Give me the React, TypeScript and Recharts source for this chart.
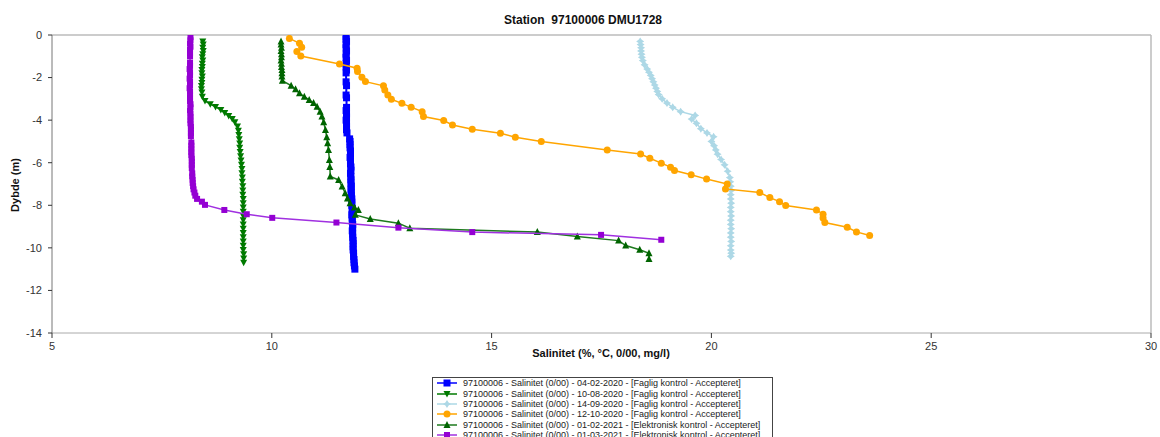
import React from "react";
import { ReferenceLine, Scatter, ScatterChart, XAxis, YAxis } from "recharts";

// Salinitet profiles, station 97100006 (depth in m, salinity in 0/00)
const blueDepth = [-0.1, -0.2, -0.3, -0.45, -0.6, -0.75, -0.9, -1.05, -1.2, -1.35, -1.5, -1.65, -1.78, -2.2, -2.38, -2.82, -2.95, -3.4, -3.55, -3.7, -3.85, -4.0, -4.15, -4.3, -4.45, -4.6, -4.88, -5.0, -5.15, -5.3, -5.45, -5.6, -5.75, -5.9, -6.05, -6.2, -6.35, -6.5, -6.65, -6.8, -6.95, -7.1, -7.25, -7.4, -7.55, -7.7, -7.85, -8.0, -8.15, -8.3, -8.45, -8.6, -8.75, -8.9, -9.05, -9.2, -9.35, -9.5, -9.65, -9.8, -9.95, -10.1, -10.25, -10.4, -10.55, -10.7, -10.85, -11.0];
const blueSal = [11.69, 11.69, 11.7, 11.69, 11.69, 11.7, 11.69, 11.69, 11.7, 11.69, 11.69, 11.7, 11.69, 11.69, 11.7, 11.69, 11.7, 11.7, 11.69, 11.7, 11.7, 11.69, 11.7, 11.7, 11.7, 11.71, 11.77, 11.78, 11.78, 11.78, 11.79, 11.79, 11.78, 11.79, 11.79, 11.8, 11.8, 11.79, 11.8, 11.8, 11.8, 11.81, 11.8, 11.81, 11.81, 11.82, 11.82, 11.82, 11.83, 11.83, 11.82, 11.83, 11.83, 11.84, 11.84, 11.83, 11.84, 11.84, 11.85, 11.85, 11.85, 11.85, 11.86, 11.86, 11.87, 11.87, 11.88, 11.89];

const greenDepth = [-0.3, -0.45, -0.6, -0.75, -0.9, -1.05, -1.2, -1.35, -1.5, -1.65, -1.8, -1.95, -2.1, -2.25, -2.4, -2.55, -2.7, -2.9, -3.1, -3.25, -3.38, -3.52, -3.66, -3.8, -3.95, -4.1, -4.3, -4.5, -4.7, -4.9, -5.1, -5.3, -5.5, -5.7, -5.9, -6.1, -6.3, -6.5, -6.7, -6.9, -7.1, -7.3, -7.5, -7.7, -7.9, -8.1, -8.3, -8.5, -8.7, -8.9, -9.1, -9.3, -9.5, -9.7, -9.9, -10.1, -10.3, -10.5, -10.7];
const greenSal = [8.43, 8.44, 8.43, 8.44, 8.43, 8.42, 8.43, 8.42, 8.42, 8.41, 8.41, 8.42, 8.41, 8.41, 8.4, 8.4, 8.41, 8.42, 8.48, 8.6, 8.72, 8.84, 8.93, 9.02, 9.1, 9.16, 9.22, 9.24, 9.25, 9.26, 9.27, 9.27, 9.28, 9.29, 9.3, 9.31, 9.32, 9.32, 9.33, 9.33, 9.34, 9.34, 9.34, 9.35, 9.35, 9.35, 9.35, 9.35, 9.35, 9.35, 9.35, 9.35, 9.35, 9.35, 9.35, 9.35, 9.36, 9.36, 9.36];

const lightDepth = [-0.3, -0.45, -0.6, -0.75, -0.9, -1.05, -1.2, -1.4, -1.6, -1.75, -1.9, -2.05, -2.2, -2.35, -2.5, -2.65, -2.8, -3.0, -3.2, -3.4, -3.6, -3.78, -3.95, -4.15, -4.4, -4.6, -4.78, -5.0, -5.2, -5.4, -5.6, -5.85, -6.1, -6.4, -6.7, -6.9, -7.1, -7.3, -7.5, -7.7, -7.9, -8.1, -8.3, -8.5, -8.7, -8.9, -9.1, -9.3, -9.5, -9.7, -9.9, -10.1, -10.25, -10.4];
const lightSal = [18.38, 18.39, 18.4, 18.4, 18.41, 18.42, 18.44, 18.48, 18.54, 18.58, 18.62, 18.65, 18.68, 18.71, 18.74, 18.77, 18.8, 18.88, 18.99, 19.12, 19.3, 19.63, 19.55, 19.66, 19.76, 19.9, 20.05, 20.0, 20.06, 20.1, 20.14, 20.22, 20.3, 20.37, 20.42, 20.43, 20.44, 20.45, 20.44, 20.44, 20.45, 20.44, 20.44, 20.45, 20.44, 20.44, 20.45, 20.44, 20.44, 20.45, 20.44, 20.44, 20.45, 20.44];

const orangeDepth = [-0.16, -0.39, -0.58, -0.78, -0.99, -1.36, -1.56, -1.72, -1.99, -2.19, -2.39, -2.58, -2.82, -3.02, -3.21, -3.39, -3.6, -3.83, -4.02, -4.23, -4.43, -4.62, -4.8, -5.0, -5.4, -5.59, -5.79, -6.02, -6.21, -6.37, -6.57, -6.77, -7.0, -7.23, -7.4, -7.64, -7.83, -8.01, -8.22, -8.42, -8.6, -8.81, -9.03, -9.25, -9.42];
const orangeSal = [10.4, 10.63, 10.68, 10.57, 10.66, 11.54, 11.94, 11.95, 12.05, 12.13, 12.54, 12.57, 12.64, 12.72, 12.96, 13.17, 13.42, 13.45, 13.91, 14.11, 14.56, 15.2, 15.54, 16.13, 17.63, 18.39, 18.6, 18.86, 19.07, 19.16, 19.54, 19.89, 20.36, 20.32, 21.1, 21.33, 21.55, 21.69, 22.39, 22.54, 22.54, 22.58, 23.09, 23.3, 23.6];

const triDepth = [-0.31, -0.45, -0.6, -0.75, -0.9, -1.05, -1.2, -1.35, -1.5, -1.65, -1.8, -1.95, -2.15, -2.38, -2.55, -2.74, -2.9, -3.05, -3.2, -3.37, -3.6, -3.83, -4.1, -4.46, -4.8, -5.08, -5.4, -5.87, -6.2, -6.65, -6.81, -7.12, -7.43, -7.68, -7.9, -8.1, -8.22, -8.45, -8.64, -8.84, -9.08, -9.26, -9.47, -9.66, -9.89, -10.09, -10.25, -10.52];
const triSal = [10.21, 10.21, 10.22, 10.21, 10.22, 10.22, 10.21, 10.22, 10.22, 10.23, 10.23, 10.23, 10.24, 10.44, 10.54, 10.63, 10.74, 10.85, 10.95, 11.03, 11.1, 11.14, 11.18, 11.22, 11.25, 11.27, 11.29, 11.31, 11.32, 11.33, 11.52, 11.6, 11.67, 11.72, 11.78, 11.88, 11.97, 11.9, 12.24, 12.88, 13.14, 16.04, 16.95, 17.89, 18.05, 18.37, 18.58, 18.58];

const purpleDepth = [-0.1, -0.25, -0.4, -0.55, -0.7, -0.85, -1.0, -1.3, -1.45, -1.6, -1.75, -1.9, -2.05, -2.2, -2.35, -2.5, -2.65, -2.8, -2.95, -3.1, -3.25, -3.4, -3.55, -3.7, -3.85, -4.0, -4.15, -4.3, -4.45, -4.6, -4.75, -5.05, -5.2, -5.35, -5.5, -5.65, -5.8, -5.95, -6.1, -6.25, -6.5, -6.65, -6.8, -6.95, -7.1, -7.25, -7.4, -7.55, -7.7, -7.83, -7.98, -8.22, -8.42, -8.59, -8.81, -9.05, -9.26, -9.39, -9.62];
const purpleSal = [8.15, 8.15, 8.14, 8.15, 8.14, 8.14, 8.14, 8.14, 8.14, 8.13, 8.14, 8.14, 8.13, 8.14, 8.14, 8.13, 8.14, 8.14, 8.14, 8.14, 8.15, 8.15, 8.14, 8.15, 8.15, 8.15, 8.15, 8.16, 8.16, 8.16, 8.16, 8.17, 8.17, 8.17, 8.17, 8.17, 8.18, 8.18, 8.18, 8.18, 8.19, 8.19, 8.2, 8.2, 8.21, 8.22, 8.24, 8.26, 8.3, 8.41, 8.48, 8.92, 9.43, 10.01, 11.47, 12.88, 14.56, 17.49, 18.86];

const xTicks = [5, 10, 15, 20, 25, 30];
const yTicks = [0, -2, -4, -6, -8, -10, -12, -14];

const legendLabels = [
  "97100006 - Salinitet (0/00) - 04-02-2020 - [Faglig kontrol - Accepteret]",
  "97100006 - Salinitet (0/00) - 10-08-2020 - [Faglig kontrol - Accepteret]",
  "97100006 - Salinitet (0/00) - 14-09-2020 - [Faglig kontrol - Accepteret]",
  "97100006 - Salinitet (0/00) - 12-10-2020 - [Faglig kontrol - Accepteret]",
  "97100006 - Salinitet (0/00) - 01-02-2021 - [Elektronisk kontrol - Accepteret]",
  "97100006 - Salinitet (0/00) - 01-03-2021 - [Elektronisk kontrol - Accepteret]",
];

const FONT = "'Liberation Sans', Arial, sans-serif";

const zip = (d: number[], s: number[]) => d.map((y, i) => ({ x: s[i], y }));

type Mark = "square" | "invtri" | "star" | "circle" | "tri" | "smallsquare";

function marker(kind: Mark, cx: number, cy: number, color: string) {
  switch (kind) {
    case "square":
      return <rect x={cx - 3.5} y={cy - 3.5} width={7} height={7} fill={color} />;
    case "smallsquare":
      return <rect x={cx - 3} y={cy - 3} width={6} height={6} fill={color} />;
    case "invtri":
      return <polygon points={`${cx - 3.5},${cy - 3} ${cx + 3.5},${cy - 3} ${cx},${cy + 3.5}`} fill={color} />;
    case "tri":
      return <polygon points={`${cx},${cy - 4} ${cx - 3.5},${cy + 3} ${cx + 3.5},${cy + 3}`} fill={color} />;
    case "circle":
      return <circle cx={cx} cy={cy} r={3.5} fill={color} />;
    case "star":
      return (
        <path
          d={`M${cx - 4},${cy} L${cx - 1.6},${cy - 1.6} L${cx},${cy - 4} L${cx + 1.6},${cy - 1.6} L${cx + 4},${cy} L${cx + 1.6},${cy + 1.6} L${cx},${cy + 4} L${cx - 1.6},${cy + 1.6} Z`}
          fill={color}
        />
      );
  }
}

const series: { data: { x: number; y: number }[]; color: string; line: string; mark: Mark; w: number }[] = [
  { data: zip(blueDepth, blueSal), color: "#0000ff", line: "#0000ff", mark: "square", w: 2 },
  { data: zip(greenDepth, greenSal), color: "#007a00", line: "#007a00", mark: "invtri", w: 1.5 },
  { data: zip(lightDepth, lightSal), color: "#add8e6", line: "#add8e6", mark: "star", w: 1.5 },
  { data: zip(orangeDepth, orangeSal), color: "#ffa500", line: "#ffa500", mark: "circle", w: 1.5 },
  { data: zip(triDepth, triSal), color: "#006400", line: "#1e7a1e", mark: "tri", w: 1.5 },
  { data: zip(purpleDepth, purpleSal), color: "#9400d3", line: "#a030e0", mark: "smallsquare", w: 1.5 },
];

function Legend() {
  return (
    <div
      style={{
        position: "absolute",
        left: 432,
        top: 377,
        width: 339,
        height: 70,
        border: "1px solid #444",
        background: "#fff",
        fontFamily: FONT,
        fontSize: 9,
        color: "#222",
        overflow: "hidden",
      }}
    >
      {series.map((s, i) => (
        <div key={i} style={{ position: "absolute", left: 4, top: i * 10.4, height: 10.4, display: "flex", alignItems: "center" }}>
          <svg width={22} height={10}>
            <line x1={0} y1={5} x2={20} y2={5} stroke={s.line} strokeWidth={1.5} />
            {marker(s.mark, 10, 5, s.color)}
          </svg>
          <span style={{ marginLeft: 4, whiteSpace: "nowrap", lineHeight: "10px" }}>{legendLabels[i]}</span>
        </div>
      ))}
    </div>
  );
}

export default function App() {
  return (
    <div style={{ position: "absolute", left: 0, top: 0, width: 1160, height: 437, background: "#fff", overflow: "hidden", fontFamily: FONT }}>
      <div style={{ position: "absolute", left: 583, top: 13, transform: "translateX(-50%)", fontSize: 12, fontWeight: "bold", whiteSpace: "pre", color: "#111" }}>
        {"Station  97100006 DMU1728"}
      </div>
      <ScatterChart width={1160} height={437} margin={{ top: 35, right: 9, bottom: 74, left: 12 }}>
        <XAxis
          type="number"
          dataKey="x"
          domain={[5, 30]}
          ticks={xTicks}
          allowDataOverflow
          axisLine={{ stroke: "#aaa" }}
          tickLine={{ stroke: "#333" }}
          tickSize={5}
          tickMargin={4}
          height={30}
          tick={{ fontSize: 11, fill: "#333", fontFamily: FONT }}
        />
        <YAxis
          type="number"
          dataKey="y"
          domain={[-14, 0]}
          ticks={yTicks}
          allowDataOverflow
          axisLine={{ stroke: "#777" }}
          tickLine={{ stroke: "#333" }}
          tickSize={4}
          tickMargin={6}
          width={40}
          tick={{ fontSize: 11, fill: "#333", fontFamily: FONT }}
        />
        <ReferenceLine y={0} stroke="#bbb" strokeWidth={1.5} />
        <ReferenceLine x={30} stroke="#bbb" strokeWidth={1.5} />
        {series.map((s, i) => (
          <Scatter
            key={i}
            data={s.data}
            fill={s.color}
            line={{ stroke: s.line, strokeWidth: s.w }}
            lineType="joint"
            isAnimationActive={false}
            shape={(p: any) => marker(s.mark, p.cx, p.cy, s.color)}
          />
        ))}
      </ScatterChart>
      <div style={{ position: "absolute", left: 601, top: 347, transform: "translateX(-50%)", fontSize: 11, fontWeight: "bold", whiteSpace: "nowrap", color: "#111" }}>
        Salinitet (%, °C, 0/00, mg/l)
      </div>
      <div style={{ position: "absolute", left: 15, top: 185, transform: "translate(-50%, -50%) rotate(-90deg)", fontSize: 11, fontWeight: "bold", whiteSpace: "nowrap", color: "#111" }}>
        Dybde (m)
      </div>
      <Legend />
    </div>
  );
}
